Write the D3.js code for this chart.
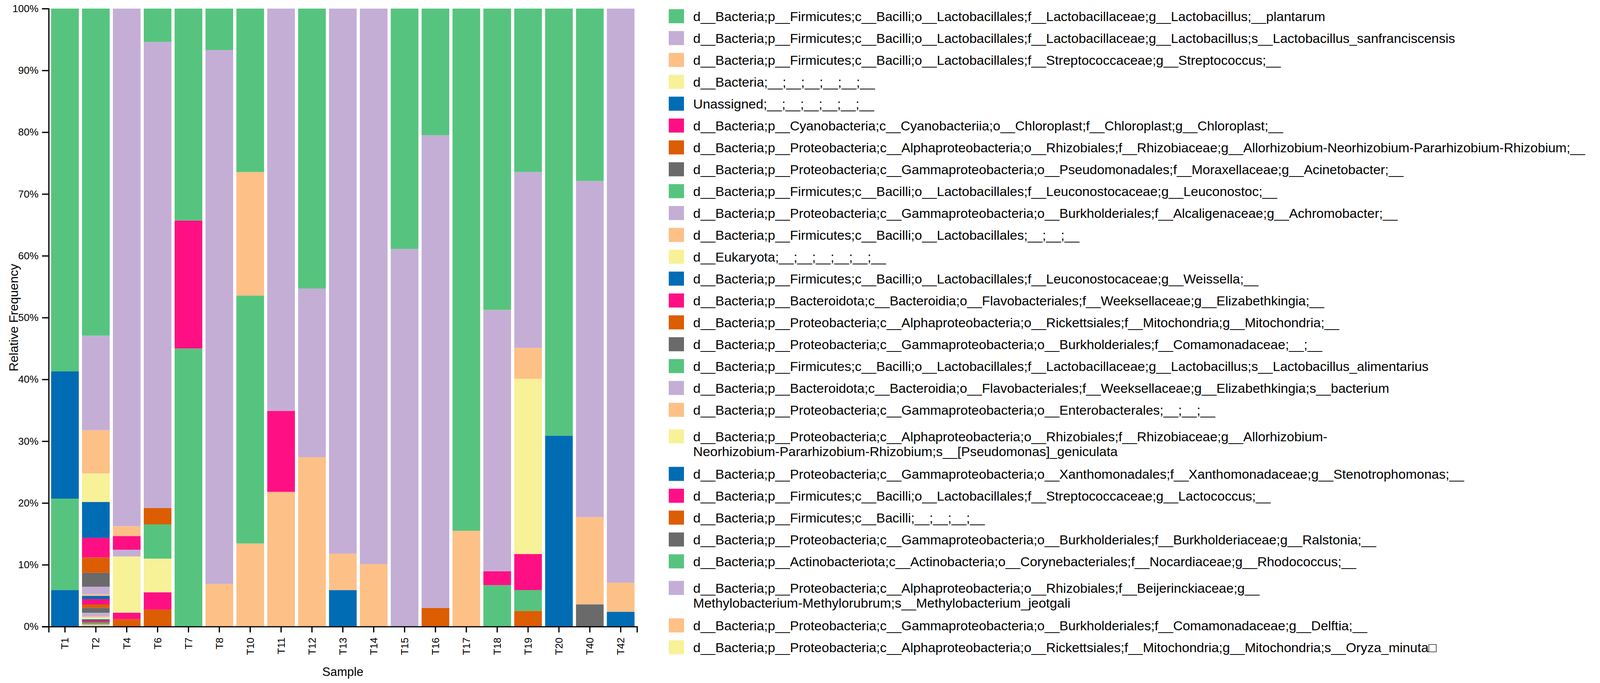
<!DOCTYPE html>
<html>
<head>
<meta charset="utf-8">
<script src="https://cdn.jsdelivr.net/npm/d3@7"></script>
<style>
  html,body{margin:0;padding:0;background:#fff;}
  svg{display:block;font-family:"Liberation Sans",Arial,Helvetica,sans-serif;}
</style>
</head>
<body>
<svg id="chart" width="4276" height="1749"></svg>
<script>
/* ---------- data ---------- */
const samples = ["T1","T2","T4","T6","T7","T8","T10","T11","T12","T13",
                 "T14","T15","T16","T17","T18","T19","T20","T40","T42"];

const taxa = [
  "d__Bacteria;p__Firmicutes;c__Bacilli;o__Lactobacillales;f__Lactobacillaceae;g__Lactobacillus;__plantarum",
  "d__Bacteria;p__Firmicutes;c__Bacilli;o__Lactobacillales;f__Lactobacillaceae;g__Lactobacillus;s__Lactobacillus_sanfranciscensis",
  "d__Bacteria;p__Firmicutes;c__Bacilli;o__Lactobacillales;f__Streptococcaceae;g__Streptococcus;__",
  "d__Bacteria;__;__;__;__;__;__",
  "Unassigned;__;__;__;__;__;__",
  "d__Bacteria;p__Cyanobacteria;c__Cyanobacteriia;o__Chloroplast;f__Chloroplast;g__Chloroplast;__",
  "d__Bacteria;p__Proteobacteria;c__Alphaproteobacteria;o__Rhizobiales;f__Rhizobiaceae;g__Allorhizobium-Neorhizobium-Pararhizobium-Rhizobium;__",
  "d__Bacteria;p__Proteobacteria;c__Gammaproteobacteria;o__Pseudomonadales;f__Moraxellaceae;g__Acinetobacter;__",
  "d__Bacteria;p__Firmicutes;c__Bacilli;o__Lactobacillales;f__Leuconostocaceae;g__Leuconostoc;__",
  "d__Bacteria;p__Proteobacteria;c__Gammaproteobacteria;o__Burkholderiales;f__Alcaligenaceae;g__Achromobacter;__",
  "d__Bacteria;p__Firmicutes;c__Bacilli;o__Lactobacillales;__;__;__",
  "d__Eukaryota;__;__;__;__;__;__",
  "d__Bacteria;p__Firmicutes;c__Bacilli;o__Lactobacillales;f__Leuconostocaceae;g__Weissella;__",
  "d__Bacteria;p__Bacteroidota;c__Bacteroidia;o__Flavobacteriales;f__Weeksellaceae;g__Elizabethkingia;__",
  "d__Bacteria;p__Proteobacteria;c__Alphaproteobacteria;o__Rickettsiales;f__Mitochondria;g__Mitochondria;__",
  "d__Bacteria;p__Proteobacteria;c__Gammaproteobacteria;o__Burkholderiales;f__Comamonadaceae;__;__",
  "d__Bacteria;p__Firmicutes;c__Bacilli;o__Lactobacillales;f__Lactobacillaceae;g__Lactobacillus;s__Lactobacillus_alimentarius",
  "d__Bacteria;p__Bacteroidota;c__Bacteroidia;o__Flavobacteriales;f__Weeksellaceae;g__Elizabethkingia;s__bacterium",
  "d__Bacteria;p__Proteobacteria;c__Gammaproteobacteria;o__Enterobacterales;__;__;__",
  "d__Bacteria;p__Proteobacteria;c__Alphaproteobacteria;o__Rhizobiales;f__Rhizobiaceae;g__Allorhizobium-\nNeorhizobium-Pararhizobium-Rhizobium;s__[Pseudomonas]_geniculata",
  "d__Bacteria;p__Proteobacteria;c__Gammaproteobacteria;o__Xanthomonadales;f__Xanthomonadaceae;g__Stenotrophomonas;__",
  "d__Bacteria;p__Firmicutes;c__Bacilli;o__Lactobacillales;f__Streptococcaceae;g__Lactococcus;__",
  "d__Bacteria;p__Firmicutes;c__Bacilli;__;__;__;__",
  "d__Bacteria;p__Proteobacteria;c__Gammaproteobacteria;o__Burkholderiales;f__Burkholderiaceae;g__Ralstonia;__",
  "d__Bacteria;p__Actinobacteriota;c__Actinobacteria;o__Corynebacteriales;f__Nocardiaceae;g__Rhodococcus;__",
  "d__Bacteria;p__Proteobacteria;c__Alphaproteobacteria;o__Rhizobiales;f__Beijerinckiaceae;g__\nMethylobacterium-Methylorubrum;s__Methylobacterium_jeotgali",
  "d__Bacteria;p__Proteobacteria;c__Gammaproteobacteria;o__Burkholderiales;f__Comamonadaceae;g__Delftia;__",
  "d__Bacteria;p__Proteobacteria;c__Alphaproteobacteria;o__Rickettsiales;f__Mitochondria;g__Mitochondria;s__Oryza_minuta\u25A1"
];

const palette = ["#56c47e","#c4aed6","#fdc087","#f7f198","#006cb4","#ff0f84","#dc5d02","#6a6a6a"];

/* relative abundance (%) — one row per taxon, columns follow `samples` */
//                T1    T2     T4     T6    T7    T8    T10    T11   T12   T13   T14   T15   T16   T17   T18    T19    T20   T40   T42
const abundance = [
  /* 1*/ [58.7, 52.9,  0,     5.4,  34.3, 6.7,  26.45, 0,    45.3, 0,    0,    38.9, 20.5, 84.5, 48.75, 26.45, 69.1, 27.9, 0   ],
  /* 2*/ [0,    15.3,  83.76, 75.4, 0,    86.4, 0,     65.1, 27.3, 88.2, 89.9, 61.1, 76.5, 0,    42.3,  28.45, 0,    54.4, 92.9],
  /* 3*/ [0,    7.0,   1.59,  0,    0,    6.9,  20.0,  0,    27.4, 5.9,  10.1, 0,    0,    15.5, 0,     5.0,   0,    14.1, 4.7 ],
  /* 4*/ [0,    4.6,   0,     0,    0,    0,    0,     0,    0,    0,    0,    0,    0,    0,    0,     28.35, 0,    0,    0   ],
  /* 5*/ [20.6, 5.8,   0,     0,    0,    0,    0,     0,    0,    5.9,  0,    0,    0,    0,    0,     0,     30.9, 0,    2.4 ],
  /* 6*/ [0,    3.19,  2.22,  0,    20.7, 0,    0,     13.1, 0,    0,    0,    0,    0,    0,    2.25,  5.84,  0,    0,    0   ],
  /* 7*/ [0,    2.47,  0,     2.67, 0,    0,    0,     0,    0,    0,    0,    0,    3.0,  0,    0,     0,     0,    0,    0   ],
  /* 8*/ [0,    2.26,  0,     0,    0,    0,    0,     0,    0,    0,    0,    0,    0,    0,    0,     0,     0,    3.6,  0   ],
  /* 9*/ [14.8, 0,     0,     5.54, 45.0, 0,    40.1,  0,    0,    0,    0,    0,    0,    0,    6.7,   3.37,  0,    0,    0   ],
  /*10*/ [0,    1.21,  1.08,  0,    0,    0,    0,     0,    0,    0,    0,    0,    0,    0,    0,     0,     0,    0,    0   ],
  /*11*/ [0,    0.25,  0,     0,    0,    0,    13.45, 21.8, 0,    0,    0,    0,    0,    0,    0,     0,     0,    0,    0   ],
  /*12*/ [0,    0,     9.11,  5.44, 0,    0,    0,     0,    0,    0,    0,    0,    0,    0,    0,     0,     0,    0,    0   ],
  /*13*/ [5.9,  0.53,  0,     0,    0,    0,    0,     0,    0,    0,    0,    0,    0,    0,    0,     0,     0,    0,    0   ],
  /*14*/ [0,    0.88,  1.05,  2.79, 0,    0,    0,     0,    0,    0,    0,    0,    0,    0,    0,     0,     0,    0,    0   ],
  /*15*/ [0,    0.53,  1.19,  2.76, 0,    0,    0,     0,    0,    0,    0,    0,    0,    0,    0,     2.54,  0,    0,    0   ],
  /*16*/ [0,    0.8,   0,     0,    0,    0,    0,     0,    0,    0,    0,    0,    0,    0,    0,     0,     0,    0,    0   ],
  /*17*/ [0,    0,     0,     0,    0,    0,    0,     0,    0,    0,    0,    0,    0,    0,    0,     0,     0,    0,    0   ],
  /*18*/ [0,    0.59,  0,     0,    0,    0,    0,     0,    0,    0,    0,    0,    0,    0,    0,     0,     0,    0,    0   ],
  /*19*/ [0,    0.19,  0,     0,    0,    0,    0,     0,    0,    0,    0,    0,    0,    0,    0,     0,     0,    0,    0   ],
  /*20*/ [0,    0.27,  0,     0,    0,    0,    0,     0,    0,    0,    0,    0,    0,    0,    0,     0,     0,    0,    0   ],
  /*21*/ [0,    0.2,   0,     0,    0,    0,    0,     0,    0,    0,    0,    0,    0,    0,    0,     0,     0,    0,    0   ],
  /*22*/ [0,    0.2,   0,     0,    0,    0,    0,     0,    0,    0,    0,    0,    0,    0,    0,     0,     0,    0,    0   ],
  /*23*/ [0,    0.15,  0,     0,    0,    0,    0,     0,    0,    0,    0,    0,    0,    0,    0,     0,     0,    0,    0   ],
  /*24*/ [0,    0.1,   0,     0,    0,    0,    0,     0,    0,    0,    0,    0,    0,    0,    0,     0,     0,    0,    0   ],
  /*25*/ [0,    0.18,  0,     0,    0,    0,    0,     0,    0,    0,    0,    0,    0,    0,    0,     0,     0,    0,    0   ],
  /*26*/ [0,    0.1,   0,     0,    0,    0,    0,     0,    0,    0,    0,    0,    0,    0,    0,     0,     0,    0,    0   ],
  /*27*/ [0,    0.14,  0,     0,    0,    0,    0,     0,    0,    0,    0,    0,    0,    0,    0,     0,     0,    0,    0   ],
  /*28*/ [0,    0.12,  0,     0,    0,    0,    0,     0,    0,    0,    0,    0,    0,    0,    0,     0,     0,    0,    0   ]
];

const yTicks = d3.range(0, 1.0001, 0.1);

/* ---------- layout ---------- */
const X0 = 124.6, X1 = 1630.7, Y0 = 1604.5, Y1 = 22;
const svg = d3.select("#chart");

const x = d3.scaleBand().domain(samples).range([X0, X1])
            .paddingInner(0.104).paddingOuter(0.08);
const y = d3.scaleLinear().domain([0, 1]).range([Y0, Y1]);
const color = i => palette[i % palette.length];

/* ---------- stack ---------- */
const keys = taxa.map((_, i) => i);
const table = samples.map((s, j) => {
  const row = {sample: s};
  keys.forEach(k => row[k] = abundance[k][j]);
  return row;
});
// first taxon sits on top, so stack from the last one upward
const series = d3.stack().keys(keys.slice().reverse())
                 .offset(d3.stackOffsetExpand)(table);

svg.append("g").selectAll("g").data(series).join("g")
   .attr("fill", s => color(s.key))
   .selectAll("rect").data(s => s.filter(d => d[1] - d[0] > 0)).join("rect")
   .attr("x", d => x(d.data.sample))
   .attr("width", x.bandwidth())
   .attr("y", d => y(d[1]))
   .attr("height", d => y(d[0]) - y(d[1]));

/* ---------- axes ---------- */
const yAxis = svg.append("g").attr("transform", `translate(${X0},0)`)
  .call(d3.axisLeft(y).tickValues(yTicks).tickFormat(d3.format(".0%"))
          .tickSize(17).tickPadding(9));
const xAxis = svg.append("g").attr("transform", `translate(0,${Y0})`)
  .call(d3.axisBottom(x).tickSize(15).tickSizeOuter(15));

[yAxis, xAxis].forEach(a => {
  a.attr("font-family", null).attr("font-size", 26);
  a.selectAll("path,line").attr("stroke", "#000").attr("stroke-width", 3.2);
  a.selectAll("text").attr("fill", "#000");
});

xAxis.selectAll(".tick text")
  .attr("transform", "rotate(-90)")
  .attr("x", -28).attr("y", 0).attr("dy", "0.35em")
  .attr("text-anchor", "end");

svg.append("text")
   .attr("transform", `translate(46,${(Y0 + Y1) / 2}) rotate(-90)`)
   .attr("text-anchor", "middle").attr("font-size", 32)
   .text("Relative Frequency");

svg.append("text")
   .attr("x", (X0 + X1) / 2).attr("y", 1731)
   .attr("text-anchor", "middle").attr("font-size", 31)
   .text("Sample");

/* ---------- legend ---------- */
const LX = 1712, TX = 1774.6, LFS = 34;
let cy = 41.5, prevLines = 1;
const legendRows = taxa.map((t, i) => {
  const lines = t.split("\n");
  if (i > 0) cy += prevLines > 1 ? 96 : (lines.length > 1 ? 68 : 56);
  prevLines = lines.length;
  return {i, lines, cy};
});

const leg = svg.append("g").selectAll("g").data(legendRows).join("g");
leg.append("rect")
   .attr("x", LX).attr("y", d => d.cy - 18)
   .attr("width", 39).attr("height", 36)
   .attr("fill", d => color(d.i));
leg.append("text")
   .attr("x", TX).attr("y", d => d.cy + 12)
   .attr("font-size", LFS).attr("fill", "#000")
   .selectAll("tspan").data(d => d.lines).join("tspan")
   .attr("x", TX).attr("dy", (l, k) => k ? 38.5 : 0)
   .text(l => l);
</script>
</body>
</html>
